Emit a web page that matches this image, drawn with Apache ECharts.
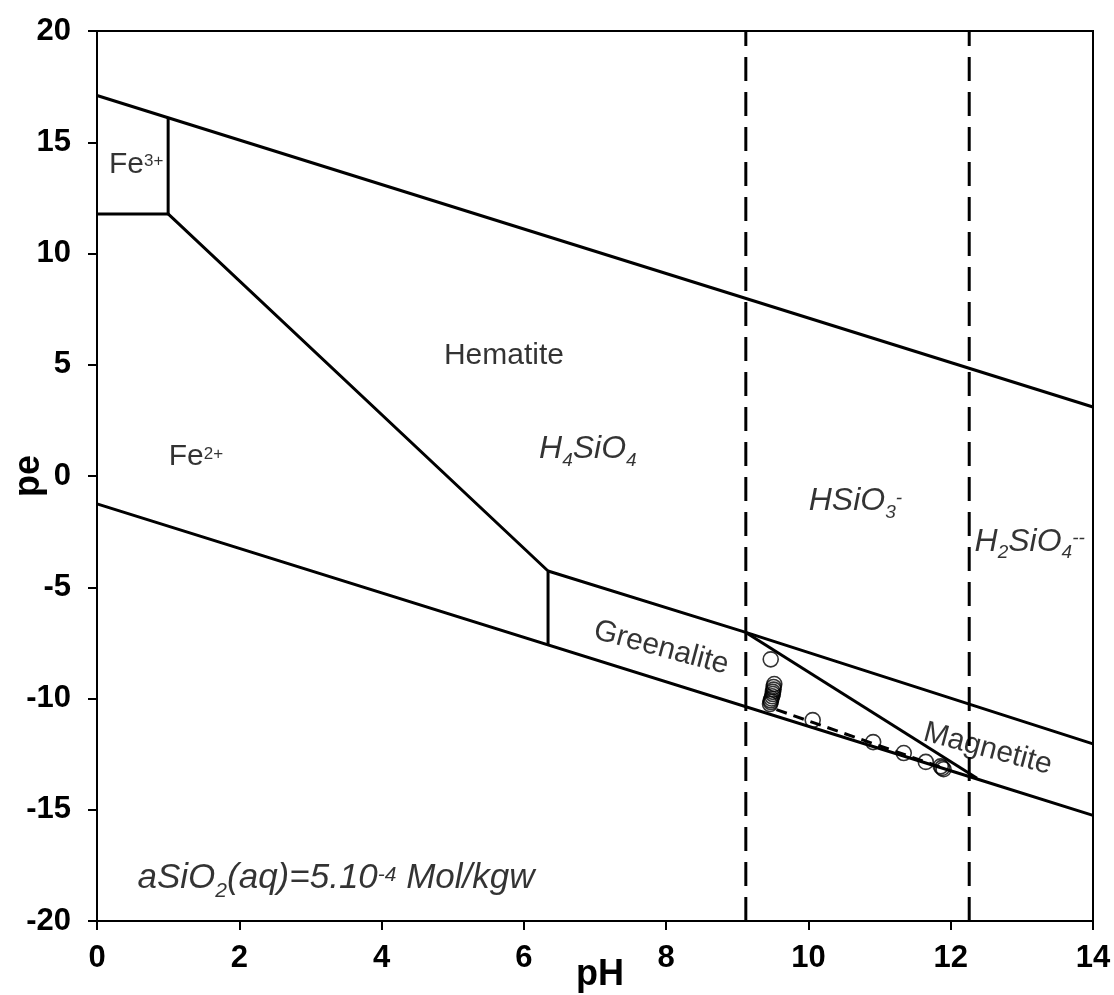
<!DOCTYPE html>
<html>
<head>
<meta charset="utf-8">
<script src="https://cdn.jsdelivr.net/npm/echarts@6/dist/echarts.min.js"></script>
<style>
  html, body { margin: 0; padding: 0; background: #fff; }
  #chart { width: 1114px; height: 995px; }
</style>
</head>
<body>
<div id="chart"></div>
<script>
// boundaries of the pe-pH diagram, [pH, pe]
var upperWater = [[0, 17.1], [14, 3.1]]
var lowerWater = [[0, -1.25], [12.37, -13.62], [14, -15.25]]
var fe3Box = [[0, 11.78], [1, 11.78], [1, 16.1]]
var hematiteFe2 = [[1, 11.78], [6.34, -4.27], [6.34, -7.59]]
var hematiteLower = [[6.34, -4.27], [9.12, -7.03], [14, -12.04]]
var greenaliteMagnetite = [[9.12, -7.03], [12.37, -13.58]]
var silicaLimit1 = [[9.12, -20], [9.12, 20]]
var silicaLimit2 = [[12.26, -20], [12.26, 20]]

// measured samples
var samples = [
  [9.47, -8.24],
  [9.52, -9.35], [9.51, -9.48], [9.51, -9.6], [9.5, -9.7], [9.5, -9.8],
  [9.49, -9.9], [9.48, -10.0], [9.47, -10.08], [9.47, -10.16], [9.46, -10.25],
  [10.06, -10.97],
  [10.91, -11.96],
  [11.34, -12.45],
  [11.65, -12.85],
  [11.86, -13.05], [11.88, -13.12], [11.9, -13.18]
]
var sampleTrend = [[9.55, -10.5], [11.85, -13.08]]

// region labels: [pH, pe, text, rotation]
var regionLabels = [
  [0.55, 14.0, '{n|Fe}{sup|3+}', 0],
  [5.72, 5.4, '{n|Hematite}', 0],
  [1.39, 0.85, '{n|Fe}{sup|2+}', 0],
  [6.9, 1.2, '{i|H}{isub|4}{i|SiO}{isub|4}', 0],
  [10.66, -1.15, '{i|HSiO}{isub|3}{isup|-}', 0],
  [13.11, -2.95, '{i|H}{isub|2}{i|SiO}{isub|4}{isup|--}', 0],
  [7.93, -7.73, '{n|Greenalite}', -15],
  [12.52, -12.27, '{n|Magnetite}', -15],
  [3.36, -18.1, '{a|aSiO}{asub|2}{a|(aq)=5.10}{asup|-4}{a| Mol/kgw}', 0]
]

var font = '"Liberation Sans", Arial, sans-serif'

function rs (size, italic, shift) {
  // shift > 0 moves a fragment down, < 0 up
  var s = {
    fontSize: size, lineHeight: 44, color: '#000', fontFamily: font,
    verticalAlign: 'middle', textBorderWidth: 0
  }
  if (italic) s.fontStyle = 'italic'
  if (shift) {
    delete s.lineHeight
    s.padding = shift > 0 ? [shift * 2, 0, 0, 0] : [0, 0, -shift * 2, 0]
  }
  return s
}

var richStyles = {
  n: rs(30, false),
  sup: rs(17, false, -3),
  i: rs(32, true),
  isub: rs(19, true, 11),
  isup: rs(19, true, -3),
  a: rs(35, true),
  asub: rs(21, true, 12),
  asup: rs(21, true, -4)
}

function boundary (data, dashed) {
  return {
    type: 'line',
    data: data,
    showSymbol: false,
    silent: true,
    lineStyle: { color: '#000', width: 3, type: dashed ? [24, 11] : 'solid' },
    z: 2
  }
}

var myChart = echarts.init(document.getElementById('chart'))

var option = {
  animation: false,
  backgroundColor: '#fff',
  textStyle: { fontFamily: font },
  grid: {
    left: 97, right: 21, top: 31, bottom: 74,
    outerBoundsMode: 'none',
    containLabel: false,
    show: true, borderColor: '#000', borderWidth: 2
  },
  xAxis: {
    type: 'value',
    min: 0, max: 14, interval: 2,
    name: 'pH',
    nameLocation: 'middle',
    nameGap: 36,
    nameMoveOverlap: false,
    nameTextStyle: { fontSize: 36, fontWeight: 'bold', color: '#000', fontFamily: font, padding: [0, 0, 0, 10] },
    axisLine: { onZero: false, lineStyle: { color: '#000', width: 2 } },
    axisTick: { length: 9, lineStyle: { color: '#000', width: 2 } },
    axisLabel: { fontSize: 31, fontWeight: 'bold', color: '#000', margin: 22, fontFamily: font },
    splitLine: { show: false }
  },
  yAxis: {
    type: 'value',
    min: -20, max: 20, interval: 5,
    name: 'pe',
    nameLocation: 'middle',
    nameGap: 50,
    nameMoveOverlap: false,
    nameTextStyle: { fontSize: 36, fontWeight: 'bold', color: '#000', fontFamily: font },
    axisLine: { onZero: false, lineStyle: { color: '#000', width: 2 } },
    axisTick: { length: 9, lineStyle: { color: '#000', width: 2 } },
    axisLabel: { fontSize: 31, fontWeight: 'bold', color: '#000', margin: 26, fontFamily: font },
    splitLine: { show: false }
  },
  series: [
    boundary(upperWater),
    boundary(lowerWater),
    boundary(fe3Box),
    boundary(hematiteFe2),
    boundary(hematiteLower),
    boundary(greenaliteMagnetite),
    boundary(silicaLimit1, true),
    boundary(silicaLimit2, true),
    {
      type: 'line',
      data: sampleTrend,
      showSymbol: false,
      silent: true,
      lineStyle: { color: '#000', width: 3, type: [11, 7] },
      z: 3
    },
    {
      type: 'scatter',
      data: samples,
      symbol: 'circle',
      symbolSize: 15,
      silent: true,
      itemStyle: { color: 'rgba(0,0,0,0)', borderColor: '#000', borderWidth: 1.6 },
      z: 4
    },
    {
      type: 'scatter',
      symbolSize: 0,
      silent: true,
      itemStyle: { color: '#000' },
      data: regionLabels.map(function (d) {
        return {
          value: [d[0], d[1]],
          label: {
            show: true,
            position: 'inside',
            color: '#000',
            textBorderWidth: 0,
            textBorderColor: 'transparent',
            formatter: d[2],
            rotate: d[3],
            rich: richStyles
          }
        }
      }),
      z: 5
    }
  ]
}

myChart.setOption(option)
</script>
</body>
</html>
